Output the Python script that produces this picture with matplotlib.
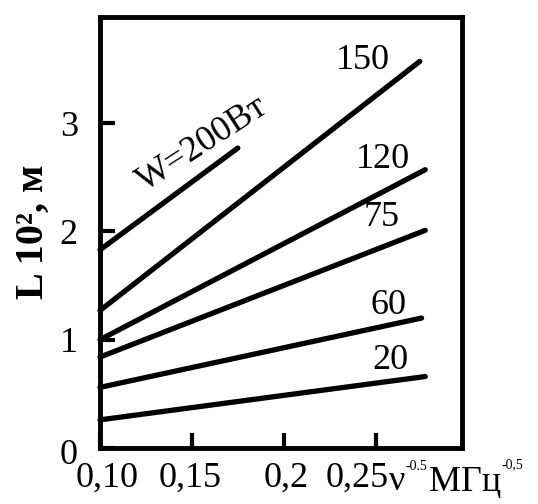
#! /usr/bin/env python3

import matplotlib
matplotlib.use('Agg')
import matplotlib.pyplot as plt
from matplotlib.transforms import ScaledTranslation

# мощность, Вт
POWERS = ['W=200Вт', '150', '120', '75', '60', '20']
X_START = [0.100, 0.100, 0.100, 0.100, 0.100, 0.100]
X_END = [0.175, 0.274, 0.277, 0.277, 0.275, 0.277]
L_START = [1.83, 1.27, 1.00, 0.84, 0.56, 0.26]
L_END = [2.77, 3.57, 2.57, 2.01, 1.20, 0.66]

# подписи кривых
LABEL_X = [0.156, 0.243, 0.254, 0.253, 0.257, 0.258]
LABEL_Y = [2.80, 3.58, 2.66, 2.13, 1.32, 0.81]
LABEL_ROT = [33, 0, 0, 0, 0, 0]

X_TICKS = [0.10, 0.15, 0.20, 0.25]
X_TICKLABELS = ['0,10', '0,15', '0,2', '0,25']
X_LABEL_SHIFT = [7, -2, 2, -18]  # px, как в оригинале
Y_TICKS = [0, 1, 2, 3]
Y_TICKLABELS = ['0', '1', '2', '3']

SERIF = ['Liberation Serif', 'DejaVu Serif']
FS = 26


def main():
    plt.rcParams['font.family'] = SERIF
    fig = plt.figure(figsize=(5.38, 5.04), dpi=100)
    ax = fig.add_axes([100 / 538, 1 - 448 / 504, 362 / 538, 431 / 504])

    for xs, xe, ys, ye in zip(X_START, X_END, L_START, L_END):
        ax.plot([xs, xe], [ys, ye], color='black', lw=3.8,
                solid_capstyle='round', clip_on=False)

    for name, lx, ly, rot in zip(POWERS, LABEL_X, LABEL_Y, LABEL_ROT):
        ax.text(lx, ly, name, fontsize=FS, rotation=rot,
                ha='center', va='center', rotation_mode='anchor')

    ax.set_xlim(0.10, 0.297)
    ax.set_ylim(0, 3.98)
    ax.set_xticks(X_TICKS)
    ax.set_xticklabels(X_TICKLABELS)
    ax.set_yticks(Y_TICKS)
    ax.set_yticklabels(Y_TICKLABELS)
    ax.tick_params(direction='in', length=11, width=3, labelsize=FS)
    ax.tick_params(axis='x', pad=10)
    ax.tick_params(axis='y', pad=16)
    for lab, dx in zip(ax.get_xticklabels(), X_LABEL_SHIFT):
        lab.set_transform(lab.get_transform() + ScaledTranslation(dx / 100, 0, fig.dpi_scale_trans))
    ylab0 = ax.get_yticklabels()[0]
    ylab0.set_transform(ylab0.get_transform() + ScaledTranslation(0, -4 / 100, fig.dpi_scale_trans))
    for sp in ax.spines.values():
        sp.set_linewidth(3.5)

    # подпись оси x
    fig.text(389 / 538, 1 - 482 / 504, 'ν', fontsize=FS, ha='left', va='center')
    fig.text(406 / 538, 1 - 467 / 504, '-0.5', fontsize=10, ha='left', va='center')
    fig.text(429 / 538, 1 - 482 / 504, 'МГц', fontsize=FS, ha='left', va='center')
    fig.text(502 / 538, 1 - 465 / 504, '-0,5', fontsize=10, ha='left', va='center')

    # подпись оси y
    fig.text(33 / 538, 1 - 232 / 504, 'L 10², м', fontsize=29, rotation=90,
             ha='center', va='center', fontweight='bold')

    fig.savefig('out.png', dpi=100)


if __name__ == '__main__':
    main()
